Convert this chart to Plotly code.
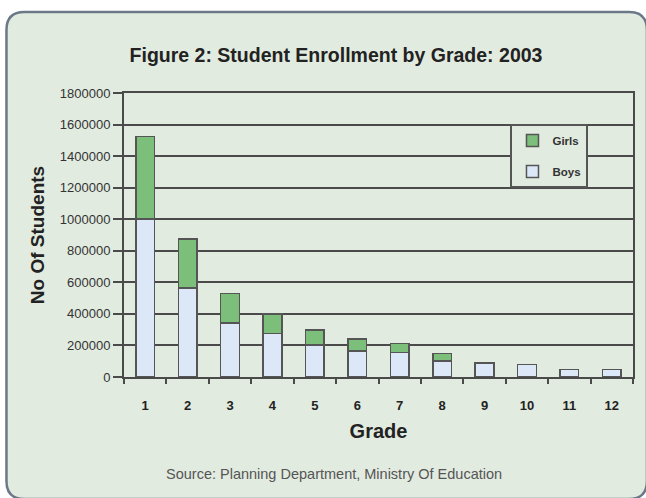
import plotly.graph_objects as go

grades = ["1", "2", "3", "4", "5", "6", "7", "8", "9", "10", "11", "12"]
boys = [1000000, 565000, 342000, 276000, 202000, 166000, 155000, 102000, 89000, 79000, 47000, 47000]
girls = [525000, 310000, 188000, 123000, 95000, 74000, 57000, 46000, 0, 0, 0, 0]
y_ticks = [0, 200000, 400000, 600000, 800000, 1000000, 1200000, 1400000, 1600000, 1800000]

W, H = 646, 498
L, R, T, B = 124, 11, 93, 121
pw, ph = W - L - R, H - T - B

def px(x):
    return (x - L) / pw

def py(y):
    return (H - B - y) / ph

FONT = "Arial, Liberation Sans, sans-serif"
BG = "#E2EBE0"
DARK = "#4a4a4a"

fig = go.Figure()
fig.add_trace(go.Bar(
    x=grades, y=boys, name="<b>Boys</b>",
    marker=dict(color="#DCE7F7", line=dict(color="#555555", width=1.5)),
    legendgroup="b", legendrank=2,
))
fig.add_trace(go.Bar(
    x=grades, y=girls, name="<b>Girls</b>",
    marker=dict(color="#7CBF7A", line=dict(color="#555555", width=1.5)),
    legendgroup="g", legendrank=1,
))

# rounded outer frame
x0, x1, y0, y1, r = 6, 649, 12, 499, 18
path = (
    f"M {px(x0)},{py(y0 + r)} "
    f"Q {px(x0)},{py(y0)} {px(x0 + r)},{py(y0)} "
    f"L {px(x1 - r)},{py(y0)} "
    f"Q {px(x1)},{py(y0)} {px(x1)},{py(y0 + r)} "
    f"L {px(x1)},{py(y1 - r)} "
    f"Q {px(x1)},{py(y1)} {px(x1 - r)},{py(y1)} "
    f"L {px(x0 + r)},{py(y1)} "
    f"Q {px(x0)},{py(y1)} {px(x0)},{py(y1 - r)} Z"
)
fig.add_shape(type="path", path=path, xref="paper", yref="paper",
              fillcolor=BG, line=dict(color="#6B7888", width=2.5), layer="below")

fig.update_layout(
    width=W, height=H,
    margin=dict(l=L, r=R, t=T, b=B),
    paper_bgcolor="white",
    plot_bgcolor="rgba(0,0,0,0)",
    barmode="stack",
    bargap=0.56,
    font=dict(family=FONT, color="#222222"),
    title=dict(
        text="<b>Figure 2: Student Enrollment by Grade: 2003</b>",
        xref="container", yref="container",
        x=336 / W, xanchor="center", y=1 - 55 / H, yanchor="middle",
        font=dict(size=19.5, family=FONT, color="#222222"),
    ),
    showlegend=True,
    legend=dict(
        x=px(512), xanchor="left", y=py(124), yanchor="top",
        bgcolor=BG, bordercolor="#555555", borderwidth=2,
        traceorder="grouped", tracegroupgap=12,
        font=dict(size=11.5, family=FONT, color="#333333"),
        itemwidth=30,
    ),
    xaxis=dict(
        type="category",
        tickson="boundaries",
        ticks="outside", ticklen=5, tickwidth=1.5, tickcolor=DARK,
        ticklabelstandoff=15,
        showline=True, linecolor=DARK, linewidth=2, mirror=True,
        showgrid=False,
        tickfont=dict(size=13, family=FONT, color="#222222"),
        tickprefix="<b>", ticksuffix="</b>",
        title=dict(text="<b>Grade</b>", font=dict(size=20, family=FONT, color="#222222"), standoff=12),
    ),
    yaxis=dict(
        range=[0, 1800000],
        tickvals=y_ticks,
        ticktext=[str(v) for v in y_ticks],
        ticks="outside", ticklen=9, tickwidth=1.5, tickcolor=DARK,
        showline=True, linecolor=DARK, linewidth=2, mirror=True,
        showgrid=True, gridcolor=DARK, gridwidth=1.8,
        zeroline=False,
        tickfont=dict(size=13, family=FONT, color="#333333"),
        title=dict(text="<b>No Of Students</b>", font=dict(size=19, family=FONT, color="#222222"), standoff=10),
    ),
)

fig.add_annotation(
    text="Source: Planning Department, Ministry Of Education",
    xref="paper", yref="paper", x=px(335), y=py(474),
    xanchor="center", yanchor="middle", showarrow=False,
    font=dict(size=14.5, family=FONT, color="#555555"),
)

fig.write_html("out.html", config={"displayModeBar": False},
               post_script="document.body.style.margin='0';document.body.style.padding='0';")
